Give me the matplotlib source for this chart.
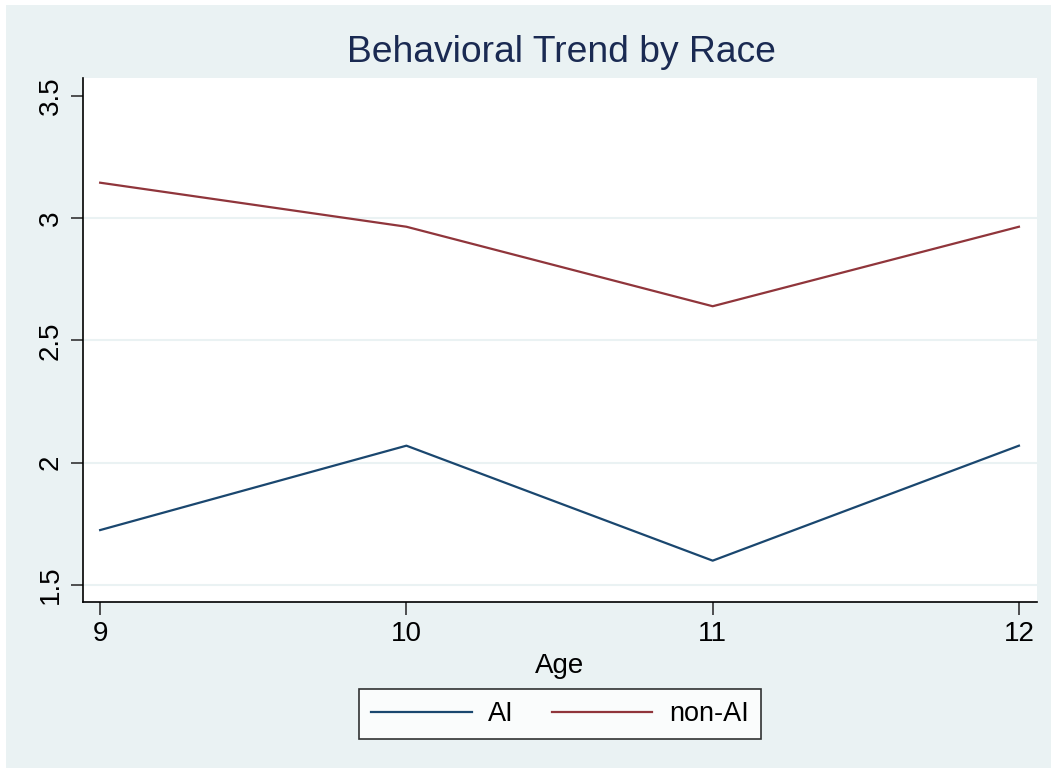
import matplotlib.pyplot as plt
from matplotlib.patches import Rectangle

# data
ages = [9, 10, 11, 12]
ai = [1.725, 2.07, 1.60, 2.07]
non_ai = [3.145, 2.965, 2.64, 2.965]
yticks = [1.5, 2, 2.5, 3, 3.5]
ytick_labels = ["1.5", "2", "2.5", "3", "3.5"]

plt.rcParams['font.family'] = ['Liberation Sans', 'DejaVu Sans']

W, H = 1057, 774
fig = plt.figure(figsize=(W / 100, H / 100), dpi=100, facecolor='white')
bg = '#eaf2f3'
fig.patches.append(Rectangle((6 / W, 6 / H), 1 - 12 / W, 1 - 11 / H,
                             transform=fig.transFigure, facecolor=bg,
                             edgecolor='none', zorder=-10))

ax = fig.add_axes([83 / W, 1 - 602 / H, (1037 - 83) / W, (602 - 78) / H])
ax.set_facecolor('white')

ax.plot(ages, ai, color='#1a476f', lw=1.6, label='AI')
ax.plot(ages, non_ai, color='#90353b', lw=1.6, label='non-AI')

ax.set_xlim(8.944, 12.059)
ax.set_ylim(1.431, 3.573)
ax.set_xticks(ages)
ax.set_yticks(yticks)
ax.set_yticklabels(ytick_labels, rotation=90, va='center')
for y in yticks[:-1]:
    ax.axhline(y, color='#eaf2f3', lw=1.5, zorder=0)

for s in ['top', 'right']:
    ax.spines[s].set_visible(False)
for s in ['left', 'bottom']:
    ax.spines[s].set_linewidth(1.2)
    ax.spines[s].set_color('black')
ax.tick_params(axis='both', length=9, width=1.2, color='#333333',
               labelsize=20, pad=5)

ax.set_xlabel('Age', fontsize=20, labelpad=4)
fig.text(561 / W, 1 - 52 / H, 'Behavioral Trend by Race', ha='center',
         va='center', fontsize=26.8, color='#1a2a52')

leg = ax.legend(loc='center', bbox_to_anchor=(560 / W, 1 - 714 / H),
                bbox_transform=fig.transFigure, ncol=2, frameon=True,
                fancybox=False, edgecolor='black', fontsize=19.5,
                handlelength=3.7, handletextpad=0.62, columnspacing=1.4,
                borderpad=0.45, borderaxespad=0)
leg.get_frame().set_linewidth(1.2)

fig.savefig('out.png', dpi=100, facecolor='white')
